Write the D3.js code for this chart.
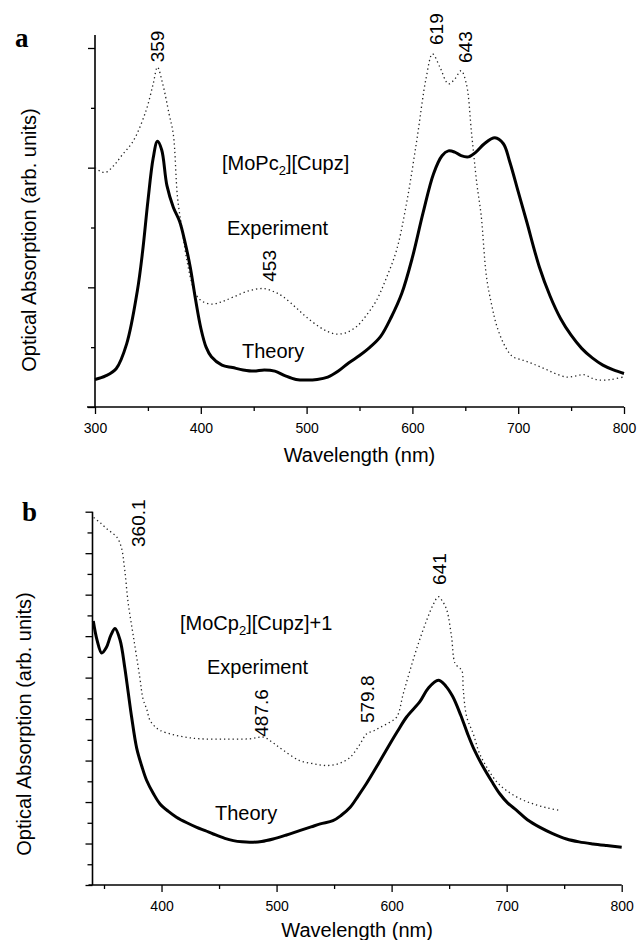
<!DOCTYPE html>
<html>
<head>
<meta charset="utf-8">
<script src="https://cdn.jsdelivr.net/npm/d3@7"></script>
<style>
  html, body { margin: 0; padding: 0; background: #fff; }
  svg { display: block; }
  text { font-family: "Liberation Sans", Arial, Helvetica, sans-serif; fill: #000; }
</style>
</head>
<body>
<svg id="chart" width="638" height="940"></svg>
<script>
// ---------------- DATA ----------------
// Panel a : [MoPc2][Cupz]
const wlTheoryA = [300,310,320,330,340,345,350,355,359,363,368,374,380,385,390,395,400,405,410,420,430,440,450,460,470,480,490,500,510,520,530,540,550,560,570,580,590,600,610,620,628,634,640,646,653,660,668,678,686,692,700,708,720,730,740,750,760,770,780,790,800];
const absTheoryA = [0.23,0.26,0.32,0.53,0.97,1.3,1.72,2.08,2.22,2.15,1.85,1.67,1.55,1.38,1.17,0.9,0.66,0.5,0.42,0.35,0.33,0.31,0.30,0.31,0.30,0.26,0.23,0.225,0.23,0.25,0.30,0.37,0.43,0.50,0.59,0.75,0.95,1.25,1.62,1.95,2.1,2.14,2.13,2.10,2.09,2.13,2.2,2.25,2.2,2.05,1.8,1.55,1.17,0.93,0.74,0.6,0.49,0.41,0.35,0.31,0.28];
const wlExpA = [300,305,310,318,326,336,348,355,359,364,370,374,378,382,387,392,396,402,411,420,431,445,459,470,478,490,500,512,520,528,537,547,556,566,575,585,594,604,613,619,626,634,640,646,651,656,661,665,670,675,680,688,695,705,714,725,735,746,755,762,770,777,788,799];
const absExpA = [2.0,1.97,1.96,2.02,2.11,2.22,2.47,2.7,2.84,2.7,2.45,2.28,1.75,1.5,1.22,1.02,0.93,0.88,0.86,0.88,0.92,0.97,0.99,0.96,0.92,0.83,0.75,0.67,0.63,0.61,0.62,0.67,0.76,0.89,1.07,1.31,1.68,2.22,2.75,2.95,2.84,2.7,2.74,2.81,2.7,2.28,1.86,1.6,1.09,0.85,0.67,0.5,0.42,0.39,0.36,0.32,0.28,0.25,0.26,0.27,0.24,0.225,0.23,0.25];
const xTicksA = [300,400,500,600,700,800];
const xMinorA = [350,450,550,650,750];
const yTicksA = [0,1,2,3];
const yMinorA = [0.5,1.5,2.5];
const annoTextA = ["359","619","643","453"];
const annoWlA = [359,622,650,464.5];
const annoAbsA = [2.88,3.025,2.875,1.047];

// Panel b : [MoCp2][Cupz]+1
const wlTheoryB = [340.7,344,348,352,356,359.6,364,368,371,374,378.4,383,387,393,398.7,406,413,422,430.6,438,445,455,462.4,470,477,487,497,508,520,530,538,549,556,564,571,578,588,598.6,605,613,624.7,632,640.6,647,653,660,666,672,680,687,694,701,708.7,718,729,740,752,763,775,787,800];
const absTheoryB = [12.73,11.8,11.19,11.45,12.05,12.37,11.8,10.5,9.3,8.1,6.6,5.7,5.05,4.4,3.91,3.55,3.27,3.0,2.78,2.62,2.46,2.25,2.14,2.08,2.06,2.1,2.22,2.4,2.62,2.8,2.95,3.1,3.35,3.75,4.3,4.88,5.8,6.81,7.4,8.1,8.85,9.5,9.87,9.6,9.1,8.2,7.3,6.5,5.65,5.0,4.4,3.95,3.6,3.15,2.78,2.48,2.22,2.08,1.98,1.9,1.82];
const wlExpB = [341,347,352,357,361,365,368,371,375.5,381,384,387,390,395,399,410,422,433,455,477,488.5,497,506,520,532,543.6,554,564,572,578.4,585,590,597,604.4,610,616,623,630.5,636,640.6,644,648,652,655,658,661,662.3,665.3,671,676,682.7,691,700,712,723,735,746.4];
const absExpB = [17.72,17.45,17.2,16.98,16.79,16.3,15.2,13.6,12.0,10.05,8.95,8.5,7.94,7.6,7.45,7.25,7.12,7.05,7.03,7.05,7.13,6.85,6.49,6.0,5.85,5.76,5.85,6.16,6.75,7.29,7.45,7.6,7.8,8.1,9.2,10.35,11.6,12.77,13.5,13.9,13.7,13.25,12.0,10.7,10.5,10.35,9.4,8.1,7.29,6.4,5.68,5.0,4.55,4.15,3.91,3.72,3.59];
const xTicksB = [400,500,600,700,800];
const xMinorB = [350,450,550,650,750];
const yTicksB = d3.range(0,19,2);
const yMinorB = d3.range(1,18,2);
const annoTextB = ["360.1","487.6","579.8","641"];
const annoWlB = [379.8,486.5,579,641.2];
const annoAbsB = [16.3,7.15,7.81,14.47];

const titleX = "Wavelength (nm)";
const titleY = "Optical Absorption (arb. units)";

// ---------------- DRAW ----------------
const svg = d3.select("#chart");

function drawPanel(cfg) {
  const { x, y } = cfg;
  const g = svg.append("g");
  const x0 = x.range()[0], x1 = x.range()[1];
  const yb = y(y.domain()[0]), yt = y.range()[1];

  // x axis major / minor ticks
  const xa = g.append("g").attr("transform", `translate(0,${yb})`)
    .call(d3.axisBottom(x).tickValues(cfg.xTicks).tickSize(7).tickSizeOuter(0).tickPadding(9).tickFormat(d3.format("d")));
  xa.select(".domain").remove();
  xa.selectAll("line").attr("stroke", "#000").attr("stroke-width", 1.3);
  xa.selectAll("text").attr("font-size", 14).attr("fill", "#000")
    .style("font-family", '"Liberation Sans", Arial, sans-serif');
  const xm = g.append("g").attr("transform", `translate(0,${yb})`)
    .call(d3.axisBottom(x).tickValues(cfg.xMinor).tickSize(4).tickSizeOuter(0).tickFormat(""));
  xm.select(".domain").remove();
  xm.selectAll("line").attr("stroke", "#000").attr("stroke-width", 1.3);

  // y axis major / minor ticks
  const ya = g.append("g").attr("transform", `translate(${x0},0)`)
    .call(d3.axisLeft(y).tickValues(cfg.yTicks).tickSize(cfg.yMajorLen).tickSizeOuter(0).tickFormat(""));
  ya.select(".domain").remove();
  ya.selectAll("line").attr("stroke", "#000").attr("stroke-width", 1.3);
  const ym = g.append("g").attr("transform", `translate(${x0},0)`)
    .call(d3.axisLeft(y).tickValues(cfg.yMinor).tickSize(cfg.yMinorLen).tickSizeOuter(0).tickFormat(""));
  ym.select(".domain").remove();
  ym.selectAll("line").attr("stroke", "#000").attr("stroke-width", 1.3);

  // axis lines
  g.append("line").attr("x1", x0 - cfg.xAxisExt).attr("x2", x1).attr("y1", yb).attr("y2", yb)
    .attr("stroke", "#000").attr("stroke-width", 1.6);
  g.append("line").attr("x1", x0).attr("x2", x0).attr("y1", yb).attr("y2", yt - cfg.yAxisExt)
    .attr("stroke", "#000").attr("stroke-width", 1.6);

  // curves
  const line = d3.line().x(d => x(d[0])).y(d => y(d[1])).curve(d3.curveCatmullRom.alpha(0.5));
  g.append("path").datum(d3.zip(cfg.wlExp, cfg.absExp)).attr("d", line)
    .attr("fill", "none").attr("stroke", "#222").attr("stroke-width", 1.3)
    .attr("stroke-dasharray", "1.3 3").attr("stroke-linecap", "butt");
  g.append("path").datum(d3.zip(cfg.wlTheory, cfg.absTheory)).attr("d", line)
    .attr("fill", "none").attr("stroke", "#000").attr("stroke-width", 3)
    .attr("stroke-linejoin", "round");

  // rotated peak annotations
  cfg.annoText.forEach((t, i) => {
    g.append("text")
      .attr("transform", `translate(${x(cfg.annoWl[i])},${y(cfg.annoAbs[i])}) rotate(-90)`)
      .attr("dy", "0.36em").attr("font-size", 19).attr("text-anchor", "start").text(t);
  });

  // axis titles
  g.append("text").attr("x", (x0 + x1) / 2).attr("y", yb + cfg.xTitleOff)
    .attr("text-anchor", "middle").attr("font-size", 20).text(titleX);
  g.append("text").attr("transform", `translate(${cfg.yTitleX},${cfg.yTitleY}) rotate(-90)`)
    .attr("text-anchor", "middle").attr("font-size", 20).text(titleY);

  // panel letter
  g.append("text").attr("x", cfg.letterPos[0]).attr("y", cfg.letterPos[1])
    .style("font-family", '"Liberation Serif", "Times New Roman", serif')
    .attr("font-weight", "bold").attr("font-size", 27).text(cfg.letter);

  // compound name
  const nm = g.append("text").attr("x", cfg.namePos[0]).attr("y", cfg.namePos[1]).attr("font-size", 20);
  nm.append("tspan").text(cfg.name[0]);
  nm.append("tspan").attr("font-size", 13).attr("dy", 5).text("2");
  nm.append("tspan").attr("dy", -5).text(cfg.name[1]);

  g.append("text").attr("x", cfg.expPos[0]).attr("y", cfg.expPos[1]).attr("font-size", 20).text("Experiment");
  g.append("text").attr("x", cfg.thPos[0]).attr("y", cfg.thPos[1]).attr("font-size", 20).text("Theory");
}

drawPanel({
  x: d3.scaleLinear().domain([300, 800]).range([95, 624]),
  y: d3.scaleLinear().domain([0, 3]).range([407, 48]),
  xTicks: xTicksA, xMinor: xMinorA, yTicks: yTicksA, yMinor: yMinorA,
  yMajorLen: 7, yMinorLen: 4, xAxisExt: 8, yAxisExt: 13,
  wlTheory: wlTheoryA, absTheory: absTheoryA, wlExp: wlExpA, absExp: absExpA,
  annoText: annoTextA, annoWl: annoWlA, annoAbs: annoAbsA,
  xTitleOff: 55, yTitleX: 36, yTitleY: 240,
  letter: "a", letterPos: [15, 47],
  name: ["[MoPc", "][Cupz]"], namePos: [222, 170],
  expPos: [227, 235], thPos: [242, 358]
});

drawPanel({
  x: d3.scaleLinear().domain([340, 800]).range([92.5, 621.7]),
  y: d3.scaleLinear().domain([0, 18]).range([885, 511.7]),
  xTicks: xTicksB, xMinor: xMinorB, yTicks: yTicksB, yMinor: yMinorB,
  yMajorLen: 7, yMinorLen: 5, xAxisExt: 4, yAxisExt: 0,
  wlTheory: wlTheoryB, absTheory: absTheoryB, wlExp: wlExpB, absExp: absExpB,
  annoText: annoTextB, annoWl: annoWlB, annoAbs: annoAbsB,
  xTitleOff: 52, yTitleX: 31, yTitleY: 724,
  letter: "b", letterPos: [22, 521],
  name: ["[MoCp", "][Cupz]+1"], namePos: [180, 630],
  expPos: [207, 674], thPos: [215, 820]
});
</script>
</body>
</html>
